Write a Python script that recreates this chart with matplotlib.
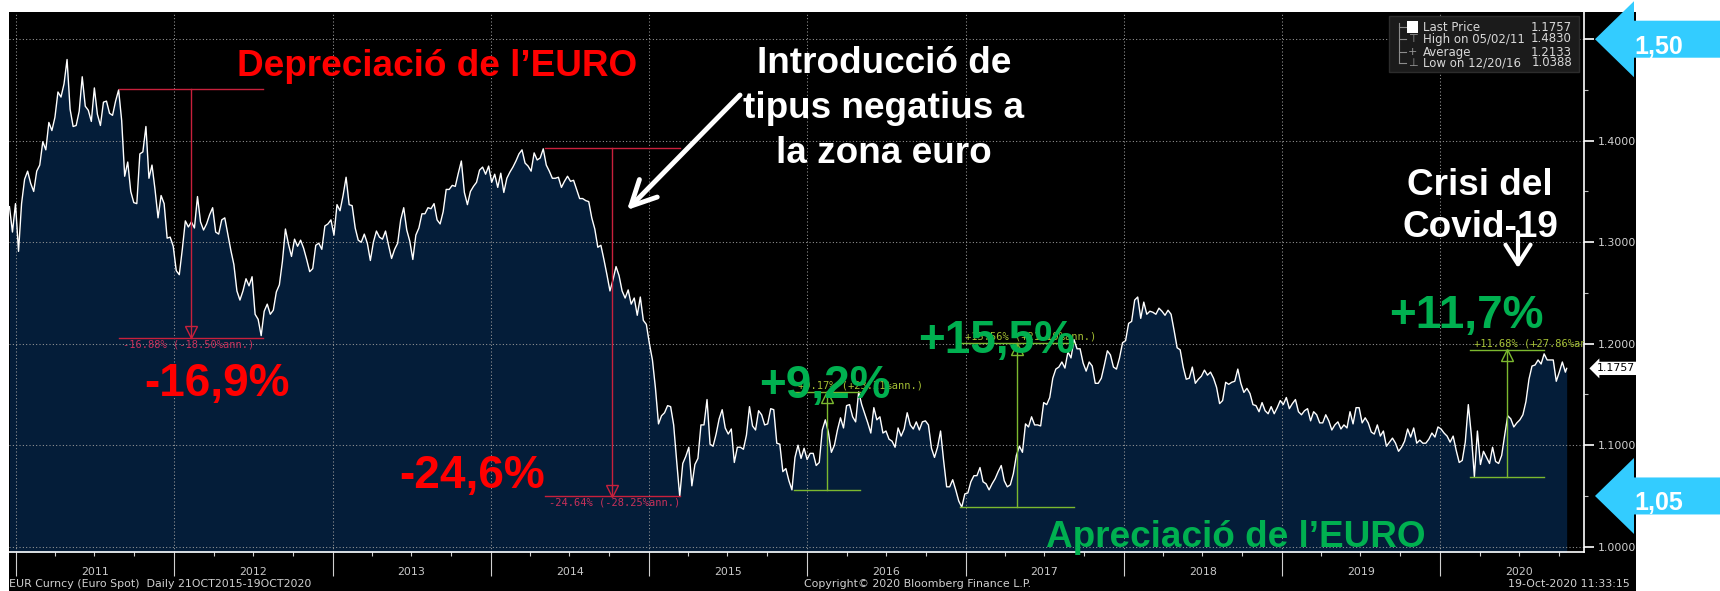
import matplotlib.pyplot as plt
import matplotlib.dates as mdates
from matplotlib.patches import Polygon, Rectangle
from matplotlib.ticker import MultipleLocator, FormatStrFormatter, NullFormatter
from matplotlib.transforms import offset_copy
import pandas as pd

W, H = 1720, 591

# EUR/USD weekly closes (Fridays)
eur_2010 = [1.3350, 1.3100, 1.3380]
eur_2011 = [1.2910, 1.3380, 1.3620, 1.3700,
            1.3580, 1.3500, 1.3700, 1.3760,
            1.3990, 1.3910, 1.4180, 1.4100,
            1.4230, 1.4480, 1.4430, 1.4560, 1.4800,
            1.4310, 1.4140, 1.4150, 1.4290,
            1.4630, 1.4340, 1.4300, 1.4190,
            1.4520, 1.4260, 1.4150, 1.4380, 1.4390,
            1.4270, 1.4250, 1.4390, 1.4500,
            1.4200, 1.3650, 1.3790, 1.3500, 1.3390,
            1.3380, 1.3870, 1.3890, 1.4140,
            1.3630, 1.3760, 1.3520, 1.3240,
            1.3460, 1.3380, 1.3040, 1.3050, 1.2960]
eur_2012 = [1.2720, 1.2680, 1.2930, 1.3210,
            1.3150, 1.3200, 1.3140, 1.3450,
            1.3200, 1.3120, 1.3180, 1.3270, 1.3340,
            1.3100, 1.3080, 1.3220, 1.3240,
            1.3080, 1.2920, 1.2780, 1.2520,
            1.2430, 1.2520, 1.2640, 1.2570, 1.2660,
            1.2290, 1.2240, 1.2080, 1.2320,
            1.2390, 1.2290, 1.2330, 1.2510, 1.2580,
            1.2810, 1.3130, 1.2980, 1.2860,
            1.3030, 1.2960, 1.3020, 1.2940,
            1.2830, 1.2710, 1.2740, 1.2970, 1.2990,
            1.2930, 1.3160, 1.3180, 1.3220]
eur_2013 = [1.3070, 1.3370, 1.3310, 1.3460,
            1.3640, 1.3370, 1.3360, 1.3140,
            1.3020, 1.3000, 1.3080, 1.2990, 1.2820,
            1.3000, 1.3110, 1.3050, 1.3030,
            1.3110, 1.2970, 1.2840, 1.2930, 1.2990,
            1.3220, 1.3340, 1.3120, 1.3010,
            1.2830, 1.3070, 1.3140, 1.3280,
            1.3280, 1.3340, 1.3330, 1.3380, 1.3220,
            1.3180, 1.3300, 1.3520, 1.3520,
            1.3560, 1.3550, 1.3680, 1.3800,
            1.3490, 1.3370, 1.3500, 1.3550, 1.3590,
            1.3710, 1.3740, 1.3670, 1.3750]
eur_2014 = [1.3590, 1.3670, 1.3540, 1.3680, 1.3490,
            1.3630, 1.3690, 1.3740, 1.3800,
            1.3870, 1.3910, 1.3780, 1.3750,
            1.3700, 1.3880, 1.3810, 1.3830,
            1.3920, 1.3760, 1.3700, 1.3630, 1.3630,
            1.3640, 1.3540, 1.3600, 1.3650,
            1.3600, 1.3610, 1.3520, 1.3430,
            1.3430, 1.3410, 1.3400, 1.3240, 1.3130,
            1.2950, 1.2970, 1.2830, 1.2680,
            1.2520, 1.2630, 1.2760, 1.2670, 1.2520,
            1.2450, 1.2530, 1.2390, 1.2450,
            1.2280, 1.2460, 1.2230, 1.2190]
eur_2015 = [1.2000, 1.1840, 1.1560, 1.1210, 1.1290,
            1.1320, 1.1390, 1.1380, 1.1200,
            1.0840, 1.0495, 1.0820, 1.0890,
            1.0980, 1.0600, 1.0810, 1.0870,
            1.1200, 1.1200, 1.1450, 1.1010, 1.0990,
            1.1110, 1.1260, 1.1350, 1.1170,
            1.1110, 1.1160, 1.0830, 1.0980, 1.0980,
            1.0960, 1.1100, 1.1380, 1.1190,
            1.1150, 1.1340, 1.1300, 1.1200,
            1.1210, 1.1360, 1.1350, 1.1020, 1.1010,
            1.0740, 1.0770, 1.0650, 1.0560,
            1.0880, 1.1000, 1.0870, 1.0970]
eur_2016 = [1.0860, 1.0920, 1.0920, 1.0800, 1.0830,
            1.1150, 1.1250, 1.1130, 1.0930,
            1.1000, 1.1150, 1.1270, 1.1170,
            1.1390, 1.1400, 1.1280, 1.1230, 1.1525,
            1.1400, 1.1310, 1.1220, 1.1120,
            1.1370, 1.1250, 1.1280, 1.1120,
            1.1140, 1.1060, 1.1040, 1.0980, 1.1170,
            1.1090, 1.1160, 1.1320, 1.1200,
            1.1160, 1.1230, 1.1150, 1.1230, 1.1240,
            1.1200, 1.0970, 1.0880, 1.0980,
            1.1140, 1.0850, 1.0590, 1.0590,
            1.0660, 1.0560, 1.0450, 1.0390, 1.0520]
eur_2017 = [1.0530, 1.0640, 1.0700, 1.0700,
            1.0780, 1.0640, 1.0620, 1.0560,
            1.0620, 1.0670, 1.0740, 1.0800, 1.0650,
            1.0590, 1.0610, 1.0720, 1.0900,
            1.0990, 1.0930, 1.1210, 1.1180,
            1.1280, 1.1200, 1.1200, 1.1190, 1.1420,
            1.1400, 1.1470, 1.1660, 1.1750,
            1.1770, 1.1820, 1.1760, 1.1920,
            1.1860, 1.2040, 1.1950, 1.1950, 1.1810,
            1.1730, 1.1820, 1.1780, 1.1610,
            1.1610, 1.1660, 1.1790, 1.1930,
            1.1890, 1.1770, 1.1750, 1.1860, 1.2010]
eur_2018 = [1.2030, 1.2200, 1.2220, 1.2430,
            1.2460, 1.2250, 1.2410, 1.2290,
            1.2320, 1.2310, 1.2290, 1.2350, 1.2320,
            1.2280, 1.2330, 1.2290, 1.2130,
            1.1960, 1.1940, 1.1770, 1.1650,
            1.1660, 1.1770, 1.1610, 1.1650, 1.1680,
            1.1740, 1.1690, 1.1720, 1.1660,
            1.1570, 1.1410, 1.1440, 1.1620, 1.1600,
            1.1620, 1.1630, 1.1750, 1.1610,
            1.1520, 1.1560, 1.1510, 1.1400,
            1.1390, 1.1330, 1.1420, 1.1340, 1.1310,
            1.1380, 1.1310, 1.1370, 1.1440]
eur_2019 = [1.1400, 1.1470, 1.1360, 1.1410,
            1.1450, 1.1330, 1.1300, 1.1340,
            1.1360, 1.1240, 1.1330, 1.1300, 1.1220,
            1.1220, 1.1300, 1.1240, 1.1150,
            1.1200, 1.1230, 1.1160, 1.1200, 1.1170,
            1.1330, 1.1210, 1.1370, 1.1370,
            1.1220, 1.1270, 1.1220, 1.1130,
            1.1110, 1.1200, 1.1090, 1.1140, 1.0990,
            1.1030, 1.1070, 1.1020, 1.0940,
            1.0980, 1.1040, 1.1160, 1.1080,
            1.1170, 1.1020, 1.1050, 1.1020, 1.1020,
            1.1060, 1.1120, 1.1080, 1.1180]
eur_2020 = [1.1160, 1.1120, 1.1090, 1.1030, 1.1090,
            1.0950, 1.0830, 1.0850, 1.1030,
            1.1400, 1.1100, 1.0690, 1.1140,
            1.0810, 1.0940, 1.0880, 1.0820,
            1.0980, 1.0840, 1.0820, 1.0900, 1.1100,
            1.1290, 1.1260, 1.1180, 1.1220,
            1.1250, 1.1300, 1.1430, 1.1650, 1.1780,
            1.1790, 1.1840, 1.1800, 1.1900,
            1.1840, 1.1840, 1.1840, 1.1630,
            1.1720, 1.1820, 1.1720]
last_date = '2020-10-19'
last_price = 1.1757

years = [2011, 2012, 2013, 2014, 2015, 2016, 2017, 2018, 2019, 2020]
year_values = [eur_2011, eur_2012, eur_2013, eur_2014, eur_2015,
               eur_2016, eur_2017, eur_2018, eur_2019, eur_2020]

# Bloomberg move measurements
move_start = ['2011-08-26', '2014-05-06', '2015-12-02', '2016-12-20', '2020-03-09']
move_end = ['2012-07-24', '2015-03-13', '2016-05-03', '2017-09-08', '2020-08-27']
move_from = [1.4505, 1.3927, 1.0557, 1.0388, 1.0690]
move_to = [1.2057, 1.0495, 1.1525, 1.2004, 1.1939]
move_label = ['-16.88% (-18.50%ann.)', '-24.64% (-28.25%ann.)', '+9.17% (+23.21%ann.)',
              '+15.56% (+21.19%ann.)', '+11.68% (+27.86%ann.)']

legend_names = ['Last Price', 'High on 05/02/11', 'Average', 'Low on 12/20/16']
legend_values = ['1.1757', '1.4830', '1.2133', '1.0388']

# build the series
dates = list(pd.date_range('2010-12-17', periods=len(eur_2010), freq='W-FRI'))
prices = list(eur_2010)
for yr, vals in zip(years, year_values):
    dates += list(pd.date_range(f'{yr}-01-01', periods=len(vals), freq='W-FRI'))
    prices += vals
dates.append(pd.Timestamp(last_date))
prices.append(last_price)


def fx(x):
    return x / W


def fy(y):
    return 1 - y / H


plt.rcParams['font.family'] = ['Liberation Sans', 'DejaVu Sans']
bb_font = 'DejaVu Sans'   # terminal-style small texts
bb_grey = '#d0d0d0'

fig = plt.figure(figsize=(W / 100, H / 100), dpi=100, facecolor='white')
fig.add_artist(Rectangle((fx(9), 0), fx(1636) - fx(9), fy(12), transform=fig.transFigure,
                         facecolor='black', edgecolor='none', zorder=-5))

ax = fig.add_axes([fx(9), fy(552), fx(1584) - fx(9), 540 / H])
ax.set_facecolor('black')
ax.fill_between(dates, prices, 0.9, color='#041d39', lw=0, zorder=1)
ax.plot(dates, prices, color='white', lw=1.0, zorder=3)
ax.set_xlim(pd.Timestamp('2010-12-16'), pd.Timestamp('2020-11-28'))
ax.set_ylim(0.9948, 1.5268)

ax.grid(True, color='#9a9a9a', ls=(0, (1, 2.2)), lw=0.75)
ax.set_axisbelow('line')

# x axis
ax.xaxis.set_major_locator(mdates.YearLocator())
ax.xaxis.set_minor_locator(mdates.MonthLocator(bymonth=[4, 7, 10]))
ax.xaxis.set_major_formatter(NullFormatter())
ax.tick_params(axis='x', which='major', length=17, width=0.8, color=bb_grey)
ax.tick_params(axis='x', which='minor', length=3, width=0.8, color=bb_grey)
for yr in years:
    ax.text(pd.Timestamp(yr, 7, 2), -0.037, str(yr), transform=ax.get_xaxis_transform(),
            ha='center', va='center', color='#c8c8c8', fontsize=7.9, family=bb_font)

# y axis on the right
ax.yaxis.tick_right()
ax.yaxis.set_major_locator(MultipleLocator(0.1))
ax.yaxis.set_minor_locator(MultipleLocator(0.05))
ax.yaxis.set_major_formatter(FormatStrFormatter('%.4f'))
ax.tick_params(axis='y', which='major', length=7, width=1.2, color='white',
               labelcolor=bb_grey, labelsize=7.9, pad=3)
ax.tick_params(axis='y', which='minor', length=3, width=0.8, color='#bfbfbf')
for lbl in ax.get_yticklabels():
    lbl.set_family(bb_font)
for s in ['top', 'left']:
    ax.spines[s].set_visible(False)
for s in ['right', 'bottom']:
    ax.spines[s].set_color('white')
    ax.spines[s].set_linewidth(1.2)

ax.annotate(f'{last_price:.4f}', xy=(1, last_price), xycoords=('axes fraction', 'data'),
            xytext=(9, 0), textcoords='offset points', ha='left', va='center',
            fontsize=7.9, family=bb_font, color='black', annotation_clip=False,
            bbox=dict(boxstyle='larrow,pad=0.15', fc='white', ec='none'))

# move measurements
for t0, t1, p0, p1, lab in zip(move_start, move_end, move_from, move_to, move_label):
    up = p1 > p0
    c_line = '#7cb82f' if up else '#c8203c'
    c_text = '#a4bf34' if up else '#c8305a'
    t0, t1 = pd.Timestamp(t0), pd.Timestamp(t1)
    tm = t0 + (t1 - t0) / 2
    ax.plot([t0, t1], [p0, p0], color=c_line, lw=1, zorder=4)
    ax.plot([t0, t1], [p1, p1], color=c_line, lw=1, zorder=4)
    ax.plot([tm, tm], [p0, p1], color=c_line, lw=1, zorder=4)
    tri = offset_copy(ax.transData, fig=fig, x=0, y=-4 if up else 4, units='points')
    ax.plot([tm], [p1], marker='^' if up else 'v', ms=8, mfc='none', mec=c_line,
            mew=1, transform=tri, zorder=4)
    if up:
        tt = offset_copy(ax.transData, fig=fig, x=3, y=1, units='points')
        ax.text(t0, p1, lab, transform=tt, ha='left', va='bottom', color=c_text,
                fontsize=7.5, family='DejaVu Sans Mono', clip_on=True, zorder=4)
    else:
        tt = offset_copy(ax.transData, fig=fig, x=3, y=-1, units='points')
        ax.text(t0, p1, lab, transform=tt, ha='left', va='top', color=c_text,
                fontsize=7.5, family='DejaVu Sans Mono', clip_on=True, zorder=4)

# legend box
ax.add_patch(Rectangle((0.8762, 0.8889), 0.1206, 0.1037, transform=ax.transAxes,
                       facecolor='#1b1b1b', edgecolor='#2c2c2c', zorder=6))
row_y = [0.9722, 0.9500, 0.9259, 0.9056]
ax.plot([0.8825, 0.8825], [0.979, 0.905], transform=ax.transAxes, color='#8c8c8c', lw=0.8, zorder=7)
for i, (nm, val) in enumerate(zip(legend_names, legend_values)):
    y = row_y[i]
    ax.plot([0.8825, 0.8870], [y, y], transform=ax.transAxes, color='#8c8c8c', lw=0.8, zorder=7)
    ax.text(0.8978, y, nm, transform=ax.transAxes, ha='left', va='center', color='#d8d8d8',
            fontsize=8.5, family=bb_font, zorder=7)
    ax.text(0.9924, y, val, transform=ax.transAxes, ha='right', va='center', color='#d8d8d8',
            fontsize=8.5, family=bb_font, zorder=7)
ax.add_patch(Rectangle((0.8878, row_y[0] - 0.012), 0.0068, 0.024, transform=ax.transAxes,
                       facecolor='white', edgecolor='none', zorder=7))
for sym, y in zip(['⊤', '+', '⊥'], row_y[1:]):
    ax.text(0.8912, y, sym, transform=ax.transAxes, ha='center', va='center',
            color='#9a9a9a', fontsize=8, family='DejaVu Sans', zorder=7)

# bottom info line
fig.text(fx(9), fy(584), 'EUR Curncy (Euro Spot)  Daily 21OCT2015-19OCT2020',
         color=bb_grey, fontsize=7.9, family=bb_font, ha='left', va='center')
fig.text(fx(917), fy(584), 'Copyright© 2020 Bloomberg Finance L.P.',
         color=bb_grey, fontsize=7.9, family=bb_font, ha='center', va='center')
fig.text(fx(1630), fy(584), '19-Oct-2020 11:33:15',
         color=bb_grey, fontsize=7.9, family=bb_font, ha='right', va='center')

# slide annotations
red, green = '#ff0000', '#00b050'
fig.text(fx(437), fy(76), 'Depreciació de l’EURO', color=red, fontsize=26.6,
         fontweight='bold', ha='center', va='baseline')
fig.text(fx(1236), fy(547), 'Apreciació de l’EURO', color=green, fontsize=26.6,
         fontweight='bold', ha='center', va='baseline')
pct_text = ['-16,9%', '-24,6%', '+9,2%', '+15,5%', '+11,7%']
pct_pos = [(217, 396), (472, 488), (825, 398), (997, 353), (1466, 328)]
for txt, (px, py) in zip(pct_text, pct_pos):
    fig.text(fx(px), fy(py), txt, color=red if txt[0] == '-' else green, fontsize=33,
             fontweight='bold', ha='center', va='baseline')

intro_lines = ['Introducció de', 'tipus negatius a', 'la zona euro']
for txt, by in zip(intro_lines, [73, 118, 163]):
    fig.text(fx(884), fy(by), txt, color='white', fontsize=26.6, fontweight='bold',
             ha='center', va='baseline')
for txt, by in zip(['Crisi del', 'Covid-19'], [195, 237]):
    fig.text(fx(1480), fy(by), txt, color='white', fontsize=26.6, fontweight='bold',
             ha='center', va='baseline')

ax.annotate('', xy=(fx(627), fy(210)), xycoords='figure fraction',
            xytext=(fx(740), fy(95)), textcoords='figure fraction', annotation_clip=False,
            arrowprops=dict(arrowstyle='->,head_length=1.8,head_width=0.9', color='white',
                            lw=3.5, shrinkA=0, shrinkB=0))
ax.annotate('', xy=(fx(1518), fy(268)), xycoords='figure fraction',
            xytext=(fx(1518), fy(232)), textcoords='figure fraction', annotation_clip=False,
            arrowprops=dict(arrowstyle='->,head_length=1.4,head_width=0.9', color='white',
                            lw=3, shrinkA=0, shrinkB=0))

# light blue level arrows on the right edge
for level, txt in zip([1.50, 1.05], ['1,50', '1,05']):
    _, ty = ax.transData.transform((0, level))
    verts = [(1595, ty), (1634, ty + 38), (1634, ty + 18.5), (W, ty + 18.5),
             (W, ty - 18.5), (1634, ty - 18.5), (1634, ty - 38)]
    fig.add_artist(Polygon([(x / W, y / H) for x, y in verts], closed=True,
                           transform=fig.transFigure, facecolor='#33ccff',
                           edgecolor='none', zorder=10))
    fig.text(1659 / W, (ty - 7.5) / H, txt, color='white', fontsize=18, fontweight='bold',
             ha='center', va='center', zorder=11)

fig.savefig('out.png', dpi=100, facecolor='white')
